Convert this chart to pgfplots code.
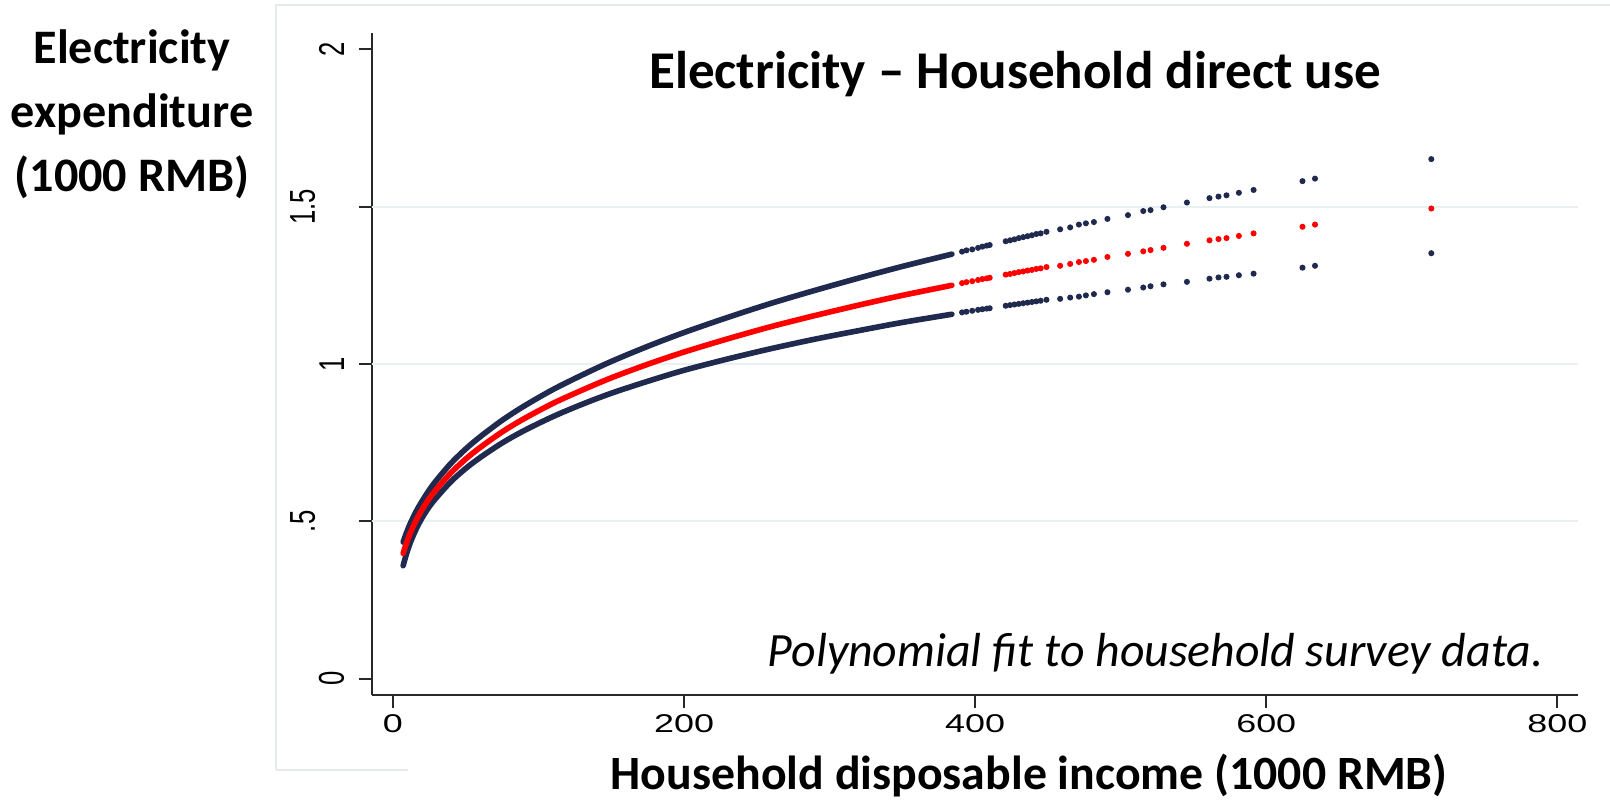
\documentclass[border=0pt]{standalone}
\usepackage{pgfplots}
\usepackage{pgfplotstable}
\pgfplotsset{compat=1.18}
\usepackage{fontspec}
\setmainfont{Carlito}
\newfontfamily\tickfont{Liberation Sans}

\definecolor{navy}{RGB}{31,42,78}
\definecolor{fitred}{RGB}{255,0,0}
\definecolor{gridc}{RGB}{232,240,241}
\definecolor{framec}{RGB}{230,234,234}
\definecolor{axisc}{RGB}{40,40,40}

% fitted expenditure with lower and upper band, densely sampled incomes
\pgfplotstableread{
x    upper  fit    lower
7    0.434  0.398  0.359
9    0.460  0.427  0.392
12   0.494  0.464  0.433
16   0.532  0.504  0.476
20   0.564  0.537  0.511
25   0.600  0.573  0.547
30   0.631  0.603  0.576
40   0.685  0.655  0.627
50   0.730  0.698  0.668
60   0.769  0.735  0.703
75   0.821  0.784  0.749
90   0.866  0.826  0.788
110  0.919  0.875  0.833
130  0.965  0.917  0.872
150  1.008  0.956  0.907
175  1.056  0.999  0.945
200  1.100  1.038  0.980
230  1.148  1.080  1.016
260  1.193  1.119  1.049
290  1.234  1.154  1.079
320  1.273  1.187  1.106
350  1.310  1.218  1.132
384  1.349  1.250  1.158
}\densecurve

% the same at the sparser high incomes
\pgfplotstableread{
x      upper  fit    lower
391    1.357  1.257  1.164
394    1.361  1.260  1.166
398    1.364  1.263  1.169
402    1.369  1.267  1.172
405    1.373  1.270  1.174
408    1.376  1.272  1.176
410    1.378  1.274  1.177
421    1.390  1.284  1.185
424    1.393  1.286  1.187
427    1.396  1.289  1.189
430    1.400  1.292  1.191
433    1.403  1.294  1.193
436    1.406  1.297  1.195
439    1.409  1.299  1.197
442    1.413  1.302  1.199
445    1.415  1.304  1.201
449    1.420  1.308  1.204
458.4  1.428  1.312  1.207
465.3  1.434  1.318  1.211
471.3  1.443  1.324  1.214
476.1  1.447  1.327  1.218
481.6  1.451  1.331  1.222
490.9  1.461  1.340  1.228
505.0  1.473  1.350  1.236
515.5  1.486  1.358  1.243
520.5  1.489  1.362  1.247
529.4  1.498  1.369  1.253
545.5  1.513  1.382  1.261
561.0  1.527  1.393  1.271
567.2  1.532  1.397  1.275
572.7  1.536  1.400  1.277
581.2  1.544  1.407  1.282
591.3  1.553  1.415  1.287
624.9  1.581  1.436  1.306
633.5  1.589  1.443  1.312
713.4  1.651  1.494  1.352
}\sparsecurve

\begin{document}
\begin{tikzpicture}
\path[use as bounding box] (0,0) rectangle (161mm,80mm);
% faint border of the graph region
\draw[framec, line width=0.5pt] (27.6mm,3mm) -- (27.6mm,79.5mm) -- (161mm,79.5mm);
\draw[framec, line width=0.5pt] (27.6mm,3mm) -- (40.8mm,3mm);

\begin{axis}[
  at={(37.17mm,10.5mm)}, anchor=south west,
  scale only axis, width=120.63mm, height=66.17mm,
  xmin=-14.6, xmax=814.2, ymin=-0.0518, ymax=2.0508,
  axis x line=bottom, axis y line=left,
  axis line style={axisc, line width=0.6pt, -},
  tick align=outside, major tick length=1.3mm,
  tick style={axisc, line width=0.6pt},
  xtick={0,200,400,600,800},
  ytick={0,0.5,1,1.5,2},
  yticklabels={0,\raisebox{2.1mm}{.5},1,\raisebox{2.1mm}{1.5},2},
  /pgf/number format/assume math mode=true,
  ticklabel style={font=\tickfont\fontsize{7.3}{8}\selectfont, inner sep=0pt},
  xticklabel style={xscale=1.4, anchor=north, yshift=-0.6mm},
  yticklabel style={xshift=-1.35mm, rotate=90, yscale=1.4, anchor=south},
  extra y ticks={0.5,1,1.5},
  extra y tick labels={},
  extra y tick style={grid=major, major tick length=0pt,
    major grid style={gridc, line width=0.6pt}},
  clip=false,
]
\addplot[navy, line width=1.6pt, smooth, line cap=round] table[x=x, y=upper] {\densecurve};
\addplot[navy, line width=1.6pt, smooth, line cap=round] table[x=x, y=lower] {\densecurve};
\addplot[fitred, line width=1.6pt, smooth, line cap=round] table[x=x, y=fit] {\densecurve};
\addplot[only marks, mark=*, mark size=0.65pt, navy] table[x=x, y=upper] {\sparsecurve};
\addplot[only marks, mark=*, mark size=0.65pt, navy] table[x=x, y=lower] {\sparsecurve};
\addplot[only marks, mark=*, mark size=0.65pt, fitred] table[x=x, y=fit] {\sparsecurve};
\end{axis}

\node[anchor=base, font=\fontsize{15.1}{18}\selectfont\bfseries] at (101.5mm,71.1mm) {Electricity -- Household direct use};
\node[anchor=base, font=\fontsize{13.7}{16}\selectfont\bfseries] at (13.2mm,73.67mm) {Electricity};
\node[anchor=base, font=\fontsize{13.7}{16}\selectfont\bfseries] at (13.2mm,67.25mm) {expenditure};
\node[anchor=base, font=\fontsize{13.7}{16}\selectfont\bfseries] at (13.2mm,60.83mm) {(1000 RMB)};
\node[anchor=base, font=\fontsize{13.6}{16}\selectfont\bfseries] at (102.9mm,1.0mm) {Household disposable income (1000 RMB)};
\node[anchor=base east, inner sep=0pt, font=\fontsize{13.6}{16}\selectfont\itshape] at (154.4mm,13.3mm) {Polynomial fit to household survey data.};
\end{tikzpicture}
\end{document}
